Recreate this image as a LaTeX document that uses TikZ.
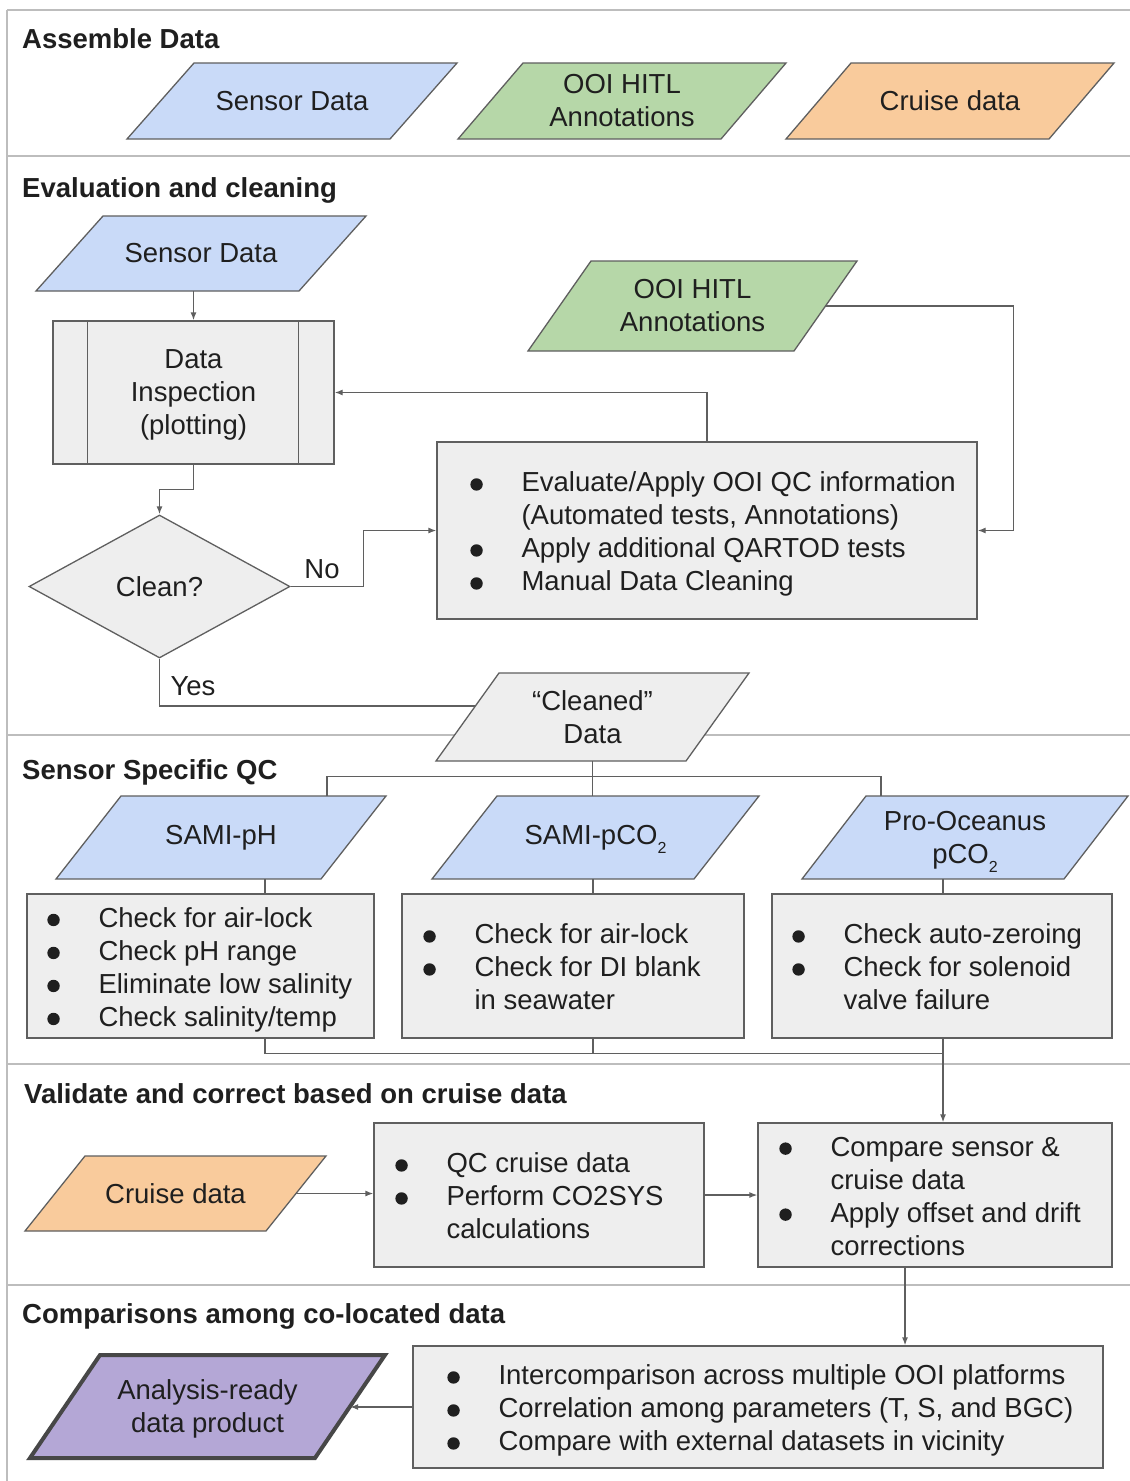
\documentclass[tikz,border=0pt]{standalone}
\usepackage{fontspec}
\setmainfont{Liberation Sans}
\usetikzlibrary{shapes.geometric,arrows.meta,calc}
\definecolor{cblue}{HTML}{C9DAF8}
\definecolor{cgreen}{HTML}{B6D7A8}
\definecolor{corange}{HTML}{F9CB9C}
\definecolor{cpurple}{HTML}{B4A7D6}
\definecolor{cgray}{HTML}{EEEEEE}
\definecolor{edgeclr}{HTML}{5F5F5F}
\definecolor{secline}{HTML}{BDBDBD}
\definecolor{txtclr}{HTML}{1F1F1F}

\newcommand\bul{\makebox[0pt][c]{\tikz[baseline=0pt]\fill[txtclr] (0pt,7.5pt) circle[radius=6.2pt];}\hspace{45pt}}
\newcommand\cont{\hspace*{45pt}}
\newcommand\subtwo{\smash{\raisebox{-9pt}{\fontsize{16}{16}\selectfont 2}}}
\newcommand\dstrut{\rule[-6pt]{0pt}{1pt}}

\tikzset{
  shapeline/.style={draw=edgeclr, line width=1.3pt},
  txtnode/.style={inner sep=0pt, align=center, text=txtclr, font=\fontsize{27.5}{33}\selectfont},
  boxnode/.style={shapeline, fill=cgray, inner sep=0pt, rectangle},
  listtxt/.style={inner sep=0pt, align=left, text=txtclr, font=\fontsize{27.5}{33}\selectfont, anchor=west, yshift=-4pt},
  head/.style={inner sep=0pt, anchor=west, text=txtclr, font=\bfseries\fontsize{27.5}{33}\selectfont, text height=20pt, text depth=0pt},
  lbl/.style={inner sep=0pt, text=txtclr, font=\fontsize{27.5}{33}\selectfont, text height=20pt, text depth=0pt},
  conn/.style={draw=edgeclr, line width=1.3pt},
  arr/.style={conn, -{Latex[length=8pt,width=6pt]}},
  sec/.style={draw=secline, line width=1.8pt},
}

% #1 name, #2 tlx, #3 trx, #4 blx, #5 top y, #6 bottom y, #7 fill, #8 extra draw style, #9 text
\newcommand\para[9]{%
  \filldraw[shapeline, fill=#7, #8] (#2,#5) coordinate (#1-tl) -- (#3,#5) coordinate (#1-tr)
     -- ({#3-(#2-#4)},#6) coordinate (#1-br) -- (#4,#6) coordinate (#1-bl) -- cycle;
  \node[txtnode, minimum width={#3-#2}, minimum height={#6-#5}] (#1) at ({(#3+#4)/2},{(#5+#6)/2}) {#9};
}
% #1 name, #2 x1, #3 x2, #4 y1, #5 y2
\newcommand\boxat[5]{%
  \node[boxnode, minimum width={#3-#2}, minimum height={#5-#4}] (#1) at ({(#2+#3)/2},{(#4+#5)/2}) {};
}

\begin{document}
\begin{tikzpicture}[x=1pt, y=-1pt]
\useasboundingbox (0,0) rectangle (1130,1481);
\fill[white] (0,0) rectangle (1130,1481);

% section frame
\draw[sec] (7,10) -- (1130,10);
\draw[sec] (7,10) -- (7,1481);
\draw[sec] (7,156) -- (1130,156);
\draw[sec] (7,735) -- (1130,735);
\draw[sec] (7,1064) -- (1130,1064);
\draw[sec] (7,1285) -- (1130,1285);

% headers
\node[head] (h1) at (22,38) {Assemble Data};
\node[head] (h2) at (22,187) {Evaluation and cleaning};
\node[head] (h3) at (22,769) {Sensor Specific QC};
\node[head] (h4) at (24,1093) {Validate and correct based on cruise data};
\node[head] (h5) at (22,1313) {Comparisons among co-located data};

% Assemble data
\para{A1}{194}{457}{127}{63}{139}{cblue}{}{Sensor Data}
\para{A2}{523}{786}{458}{63}{139}{cgreen}{}{OOI HITL\\Annotations}
\para{A3}{851}{1114}{786}{63}{139}{corange}{}{Cruise data}

% Evaluation and cleaning
\para{E1}{103}{366}{36}{216}{291}{cblue}{}{Sensor Data}
\para{E2}{591}{857}{528}{261}{351}{cgreen}{}{OOI HITL\\Annotations}

\boxat{DI}{53}{334}{321}{464}
\node[txtnode] (DIt) at (DI) {Data\\Inspection\\\smash{(plotting)}};
\draw[shapeline] ([xshift=35pt]DI.north west) -- ([xshift=35pt]DI.south west);
\draw[shapeline] ([xshift=-36pt]DI.north east) -- ([xshift=-36pt]DI.south east);

\node[diamond, shapeline, fill=cgray, minimum width=261pt, minimum height=143pt, inner sep=0pt,
      text=txtclr, font=\fontsize{27.5}{33}\selectfont, text height=20pt, text depth=0pt] (D) at (159.5,586.5) {Clean?};

\boxat{EB}{437}{977}{442}{619}
\node[listtxt] (EBt) at ([xshift=40pt]EB.west) {\bul Evaluate/Apply OOI QC information\\\cont(Automated tests, Annotations)\\\bul Apply additional QARTOD tests\\\bul Manual Data Cleaning\dstrut};

\para{Cl}{499}{749}{436}{673}{761}{cgray}{}{“Cleaned”\\Data}

% Sensor specific QC
\para{S1}{121}{386}{56}{796}{879}{cblue}{}{SAMI-pH}
\para{S2}{497}{759}{432}{796}{879}{cblue}{}{SAMI-pCO\subtwo}
\para{S3}{866}{1128}{802}{796}{879}{cblue}{}{Pro-Oceanus\\\smash{pCO\subtwo}}

\boxat{Q1}{27}{374}{894}{1038}
\boxat{Q2}{402}{744}{894}{1038}
\boxat{Q3}{772}{1112}{894}{1038}
\node[listtxt] (Q1t) at ([xshift=27pt]Q1.west) {\bul Check for air-lock\\\bul Check pH range\\\bul Eliminate low salinity\\\bul Check salinity/temp\dstrut};
\node[listtxt] (Q2t) at ([xshift=28pt]Q2.west) {\bul Check for air-lock\\\bul Check for DI blank\\\cont in seawater\dstrut};
\node[listtxt] (Q3t) at ([xshift=27pt]Q3.west) {\bul Check auto-zeroing\\\bul Check for solenoid\\\cont valve failure\dstrut};

% Validate
\para{V1}{85}{326}{25}{1156}{1231}{corange}{}{Cruise data}
\boxat{QC}{374}{704}{1123}{1267}
\boxat{CP}{758}{1112}{1123}{1267}
\node[listtxt] (QCt) at ([xshift=28pt]QC.west) {\bul QC cruise data\\\bul Perform CO2SYS\\\cont calculations\dstrut};
\node[listtxt] (CPt) at ([xshift=28pt]CP.west) {\bul Compare sensor \&\\\cont cruise data\\\bul Apply offset and drift\\\cont corrections\dstrut};

% Comparisons
\para{F1}{100}{385}{30}{1355}{1458}{cpurple}{draw=black!72, line width=4pt}{Analysis-ready\\\smash{data product}}
\boxat{IC}{413}{1103}{1346}{1468}
\node[listtxt] (ICt) at ([xshift=41pt]IC.west) {\bul Intercomparison across multiple OOI platforms\\\bul Correlation among parameters (T, S, and BGC)\\\bul Compare with external datasets in vicinity\dstrut};

% ---- connectors ----
\draw[arr] (DI.north |- E1.south) -- (DI.north);
\draw[arr] (EB.north) |- (DI.east);
\draw[arr] (E2.east) -| ([xshift=36pt]EB.east) -- (EB.east);
\draw[arr] (DI.south) -- ++(0,25) -| (D.north);
\draw[arr] (D.east) -| ([xshift=-73pt]EB.west) -- (EB.west);
\node[lbl] (no) at (322,568) {No};
\coordinate (ClL) at ($(Cl-tl)!0.375!(Cl-bl)$);
\draw[conn] (D.south) |- (ClL);
\node[lbl] (yes) at (193,685) {Yes};

\draw[conn] (Cl.south) -- ++(0,15) coordinate (J1);
\draw[conn] ([xshift=106pt]S1.north) |- (J1) -| ([xshift=-84pt]S3.north);
\draw[conn] (J1) -- (J1 |- S2.north);

\draw[conn] ([xshift=64.5pt]Q1.north) -- ([xshift=64.5pt]Q1.north |- S1.south);
\draw[conn] ([xshift=20pt]Q2.north) -- ([xshift=20pt]Q2.north |- S2.south);
\draw[conn] ([xshift=1pt]Q3.north) -- ([xshift=1pt]Q3.north |- S3.south);

\draw[conn] ([xshift=64.5pt]Q1.south) -- ++(0,15) -| ([xshift=1pt]Q3.south);
\draw[conn] ([xshift=20pt]Q2.south) -- ++(0,15);
\draw[arr] ([xshift=1pt]Q3.south) -- ([xshift=1pt]Q3.south |- CP.north);

\draw[arr] (V1.east) -- (V1.east -| QC.west);
\draw[arr] (QC.east) -- (CP.west);
\draw[arr] ([xshift=-30pt]CP.south) -- ([xshift=-30pt]CP.south |- IC.north);
\draw[arr] (IC.west) -- (IC.west -| F1.east);
\end{tikzpicture}
\end{document}
